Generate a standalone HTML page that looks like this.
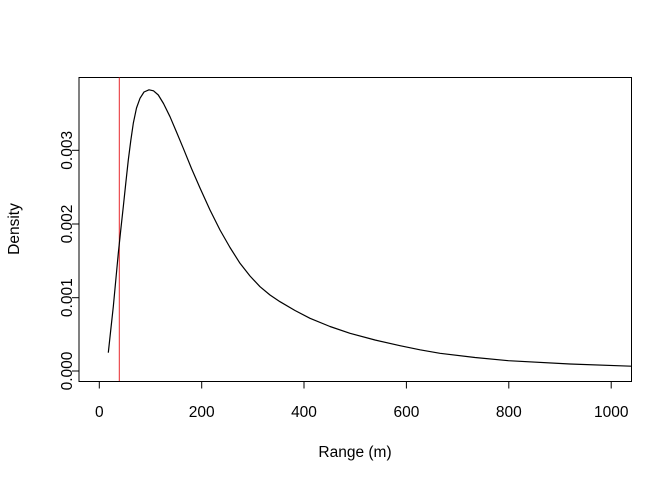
<!DOCTYPE html>
<html><head><meta charset="utf-8"><style>body{margin:0;background:#fff}svg{display:block}text{font-family:"Liberation Sans",Arial,sans-serif;font-size:15.5px;fill:#000}</style></head>
<body>
<svg width="672" height="480" xmlns="http://www.w3.org/2000/svg">
<rect x="79" y="77.5" width="552.5" height="304" fill="none" stroke="#000" stroke-width="1"/>
<line x1="119.3" y1="77.5" x2="119.3" y2="381.5" stroke="#e8262b" stroke-width="1"/>
<polyline fill="none" stroke="#000" stroke-width="1.2" stroke-linejoin="round" points="108.3,352.7 110.8,329.5 113.3,306.7 115.8,280 118.3,253.3 120.8,229.5 123.3,206.7 125.8,183 128.3,160 130.8,140.5 133.3,123.3 136.5,108 140,98.3 144,92 149,89.8 153.5,90.8 158.3,95 163.5,103.5 170,116.7 176.5,132 183.3,148.3 191.5,168.5 200,188 210,210 220,230 230,247.5 240,263.3 250,276 260,286.7 270,295 280,301.7 295,310.5 310,318.3 330,326.5 350,333.3 375,340 400,345.7 420,349.8 440,353.3 475,357.5 508.3,360.7 570,364 631,366.2"/>
<g stroke="#000" stroke-width="1">
<line x1="99.3" y1="381.5" x2="611.2" y2="381.5"/>
<line x1="99.3" y1="381.5" x2="99.3" y2="388.5"/>
<line x1="201.7" y1="381.5" x2="201.7" y2="388.5"/>
<line x1="304" y1="381.5" x2="304" y2="388.5"/>
<line x1="406.4" y1="381.5" x2="406.4" y2="388.5"/>
<line x1="508.8" y1="381.5" x2="508.8" y2="388.5"/>
<line x1="611.2" y1="381.5" x2="611.2" y2="388.5"/>
<line x1="79" y1="371" x2="79" y2="150.3"/>
<line x1="72" y1="371" x2="79" y2="371"/>
<line x1="72" y1="297.7" x2="79" y2="297.7"/>
<line x1="72" y1="224" x2="79" y2="224"/>
<line x1="72" y1="150.3" x2="79" y2="150.3"/>
</g>
<g text-anchor="middle">
<text x="99.3" y="417">0</text><text x="201.7" y="417">200</text><text x="304" y="417">400</text>
<text x="406.4" y="417">600</text><text x="508.8" y="417">800</text><text x="611.2" y="417">1000</text>
<text x="355" y="457">Range (m)</text>
<text transform="translate(72,371) rotate(-90)">0.000</text>
<text transform="translate(72,297.7) rotate(-90)">0.001</text>
<text transform="translate(72,224) rotate(-90)">0.002</text>
<text transform="translate(72,150.3) rotate(-90)">0.003</text>
<text transform="translate(19,229) rotate(-90)">Density</text>
</g>
</svg>
</body></html>
